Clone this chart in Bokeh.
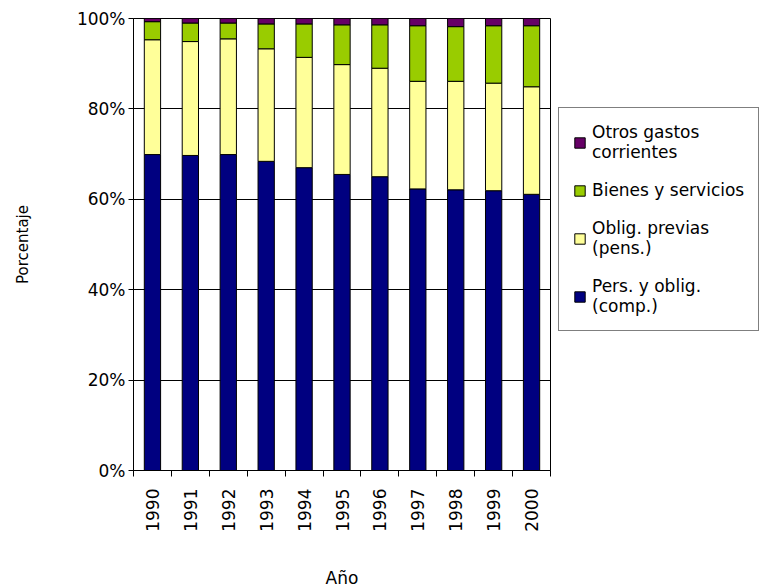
import math
from bokeh.plotting import figure
from bokeh.models import (ColumnDataSource, Range1d, FixedTicker, PrintfTickFormatter,
                          Legend, LegendItem)
from bokeh.embed import file_html
from bokeh.resources import INLINE

# ---- data (percent of total) ----
years = ["1990", "1991", "1992", "1993", "1994", "1995", "1996", "1997", "1998", "1999", "2000"]
pers = [69.9, 69.7, 69.9, 68.4, 67.0, 65.5, 65.0, 62.3, 62.1, 61.9, 61.1]
oblig = [25.4, 25.2, 25.6, 24.9, 24.4, 24.3, 24.0, 23.8, 24.0, 23.8, 23.8]
bienes = [4.0, 4.1, 3.5, 5.5, 7.4, 8.8, 9.6, 12.3, 12.1, 12.7, 13.5]
otros = [0.7, 1.0, 1.0, 1.2, 1.2, 1.4, 1.4, 1.6, 1.8, 1.6, 1.6]
series_labels = ["Pers. y oblig.\n(comp.)", "Oblig. previas\n(pens.)",
                 "Bienes y servicios", "Otros gastos\ncorrientes"]
y_ticks = [0, 20, 40, 60, 80, 100]

colors = ["#000080", "#FFFF99", "#99CC00", "#660066"]
FONT = "DejaVu Sans"

pos = [i + 0.5 for i in range(len(years))]
source = ColumnDataSource(dict(x=pos, pers=pers, oblig=oblig, bienes=bienes, otros=otros))

p = figure(frame_width=417, frame_height=452, output_backend="svg", toolbar_location=None,
           x_range=Range1d(0, len(years)), y_range=Range1d(0, 100),
           min_border_left=133, min_border_right=0, min_border_top=18,
           min_border_bottom=0)
p.background_fill_color = "white"
p.border_fill_color = "white"
p.outline_line_color = "black"
p.outline_line_width = 1

rs = p.vbar_stack(["pers", "oblig", "bienes", "otros"], x="x", width=0.43,
                  color=colors, line_color="black", line_width=1, source=source)

# x axis: labels at bar centres, tick marks at category boundaries
xt = FixedTicker(ticks=pos, minor_ticks=list(range(len(years) + 1)))
p.xaxis.ticker = xt
p.xaxis.major_label_overrides = {pos[i]: years[i] for i in range(len(years))}
p.xaxis.major_label_orientation = math.pi / 2
p.xaxis.major_tick_out = 0
p.xaxis.major_tick_in = 0
p.xaxis.minor_tick_out = 6
p.xaxis.minor_tick_in = 0
p.xaxis.minor_tick_line_color = "black"
p.xaxis.major_label_standoff = 12
p.xaxis.axis_label = "Año"
p.xaxis.axis_label_standoff = 33

p.yaxis.ticker = FixedTicker(ticks=y_ticks)
p.yaxis.formatter = PrintfTickFormatter(format="%d%%")
p.yaxis.major_tick_out = 5
p.yaxis.major_tick_in = 0
p.yaxis.minor_tick_line_color = None
p.yaxis.major_label_standoff = 3
p.yaxis.axis_label = "Porcentaje"
p.yaxis.axis_label_standoff = 42

for ax in (p.xaxis[0], p.yaxis[0]):
    ax.axis_line_color = "black"
    ax.major_tick_line_color = "black"
    ax.major_label_text_font = FONT
    ax.major_label_text_font_size = "17px"
    ax.major_label_text_color = "black"
    ax.axis_label_text_font = FONT
    ax.axis_label_text_font_style = "normal"
    ax.axis_label_text_color = "black"
p.xaxis.axis_label_text_font_size = "17px"
p.yaxis.axis_label_text_font_size = "15px"

p.xgrid.grid_line_color = None
p.ygrid.ticker = FixedTicker(ticks=y_ticks)
p.ygrid.grid_line_color = "black"
p.ygrid.grid_line_width = 1

items = [LegendItem(label=series_labels[i], renderers=[rs[i]]) for i in (3, 2, 1, 0)]
legend = Legend(items=items, location=(8, 139), padding=14, label_standoff=6,
                glyph_width=13, glyph_height=13, spacing=18,
                label_text_font=FONT, label_text_font_size="17px",
                label_text_color="black", border_line_color="black",
                border_line_width=1, background_fill_color="white", margin=8)
p.add_layout(legend, "right")

open("out.html", "w").write(file_html(p, INLINE))
